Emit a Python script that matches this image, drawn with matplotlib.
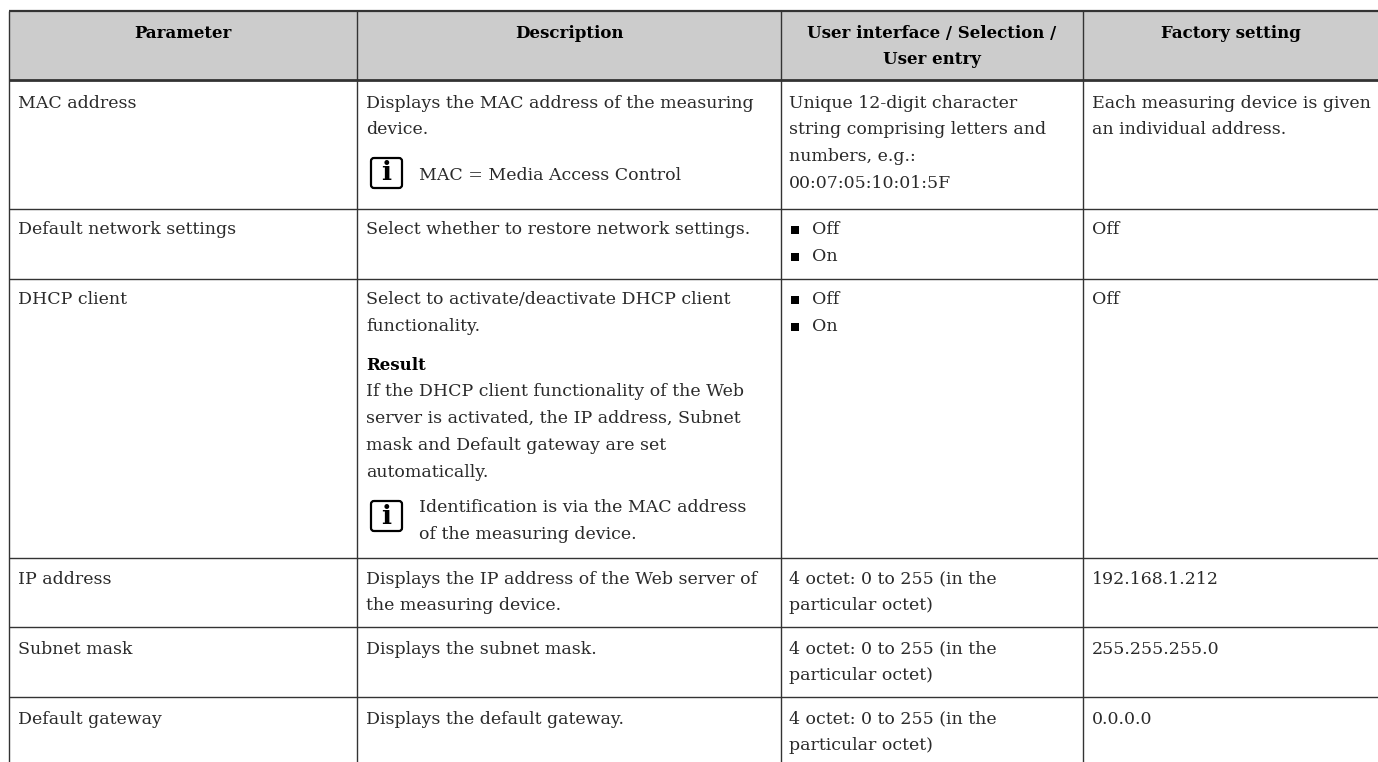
import matplotlib
matplotlib.use("Agg")
from matplotlib import pyplot as plt
from matplotlib.patches import FancyBboxPatch, Rectangle

W, H = 1378, 762

plt.rcParams['font.family'] = ['DejaVu Serif']

headers = ["Parameter", "Description", "User interface / Selection /\nUser entry", "Factory setting"]
parameters = ["MAC address", "Default network settings", "DHCP client", "IP address", "Subnet mask", "Default gateway"]
descriptions = [
    ["Displays the MAC address of the measuring", "device."],
    ["Select whether to restore network settings."],
    ["Select to activate/deactivate DHCP client", "functionality."],
    ["Displays the IP address of the Web server of", "the measuring device."],
    ["Displays the subnet mask."],
    ["Displays the default gateway."],
]
entries = [
    ["Unique 12-digit character", "string comprising letters and", "numbers, e.g.:", "00:07:05:10:01:5F"],
    [],
    [],
    ["4 octet: 0 to 255 (in the", "particular octet)"],
    ["4 octet: 0 to 255 (in the", "particular octet)"],
    ["4 octet: 0 to 255 (in the", "particular octet)"],
]
factory = [
    ["Each measuring device is given", "an individual address."],
    ["Off"],
    ["Off"],
    ["192.168.1.212"],
    ["255.255.255.0"],
    ["0.0.0.0"],
]
result_lines = ["If the DHCP client functionality of the Web", "server is activated, the IP address, Subnet",
                "mask and Default gateway are set", "automatically."]
note_mac = ["MAC = Media Access Control"]
note_dhcp = ["Identification is via the MAC address", "of the measuring device."]
off_on = ["Off", "On"]

col_x = [9, 357, 781, 1083, 1378]
row_y = [11, 80, 209, 279, 558, 627, 697, 762]
fs = 12.5
fs_bold = 12
lh = 26.8
ink = "#2a2a2a"

fig = plt.figure(figsize=(W / 100, H / 100), dpi=100)
ax = fig.add_axes([0, 0, 1, 1])
ax.set_xlim(0, W)
ax.set_ylim(H, 0)
ax.axis('off')

ax.add_patch(Rectangle((col_x[0], row_y[0]), W - col_x[0], row_y[1] - row_y[0], color="#cccccc", lw=0))


def put(x, y, lines):
    for i, s in enumerate(lines):
        ax.text(x, y - 2 + i * lh, s, fontsize=fs, color=ink, va='center_baseline')


def note(x, y, lines, box_top):
    ax.add_patch(FancyBboxPatch((x + 5, box_top), 31, 30, boxstyle="round,pad=0,rounding_size=3",
                                fc='white', ec='black', lw=1.6))
    ax.text(x + 20.5, box_top + 15, "i", fontsize=19, fontweight='bold', color='black', ha='center', va='center')
    put(x + 53, y, lines)


def bullets(x, y, lines):
    for i, s in enumerate(lines):
        ax.plot([x + 6], [y + i * lh], marker='s', ms=5.6, color='black', mew=0)
        ax.text(x + 23, y - 2 + i * lh, s, fontsize=fs, color=ink, va='center_baseline')


# table rules
for y, lw in zip(row_y[:-1], [1.6, 2.0, 1, 1, 1, 1, 1]):
    ax.plot([col_x[0], W], [y, y], color="#333333", lw=lw, solid_capstyle='butt')
for x in col_x[:-1]:
    ax.plot([x, x], [row_y[0], H], color="#333333", lw=1, solid_capstyle='butt')

# header
for i, h in enumerate(headers):
    xc = (col_x[i] + col_x[i + 1]) / 2
    for j, s in enumerate(h.split("\n")):
        ax.text(xc, 31 + j * 26, s, fontsize=fs_bold, fontweight='bold', color='black', ha='center',
                va='center_baseline')

tops = [103, 230, 300, 579, 649, 719]
for i, top in enumerate(tops):
    put(col_x[0] + 9, top, [parameters[i]])
    put(col_x[1] + 9, top, descriptions[i])
    put(col_x[2] + 8, top, entries[i])
    put(col_x[3] + 9, top, factory[i])

note(col_x[1] + 9, 176, note_mac, 158)
bullets(col_x[2] + 8, 230, off_on)
bullets(col_x[2] + 8, 300, off_on)
ax.text(col_x[1] + 9, 363, "Result", fontsize=fs_bold, fontweight='bold', color='black', va='center_baseline')
put(col_x[1] + 9, 392, result_lines)
note(col_x[1] + 9, 508, note_dhcp, 501)

fig.savefig("out.png", dpi=100)
